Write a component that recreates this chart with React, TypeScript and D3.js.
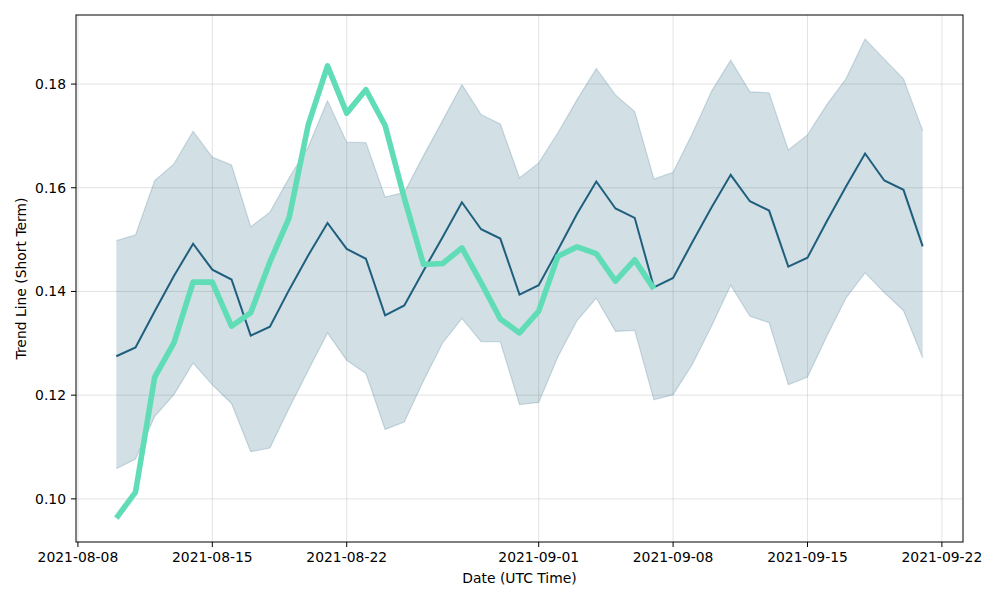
import React from "react";
import * as d3 from "d3";

const startDate = "2021-08-10";
const meanValues = [
  0.1275, 0.1292, 0.1362, 0.1430, 0.1492, 0.1442, 0.1423, 0.1315, 0.1332, 0.1403,
  0.1470, 0.1532, 0.1482, 0.1463, 0.1354, 0.1373, 0.1440, 0.1505, 0.1572, 0.1520,
  0.1502, 0.1394, 0.1412, 0.1480, 0.1550, 0.1612, 0.1560, 0.1542, 0.1408, 0.1426,
  0.1495, 0.1562, 0.1625, 0.1574, 0.1556, 0.1448, 0.1465, 0.1535, 0.1602, 0.1666,
  0.1614, 0.1596, 0.1487,
];
const upperValues = [
  0.1498, 0.1509, 0.1614, 0.1646, 0.1709, 0.1659, 0.1644, 0.1525, 0.1553, 0.1619,
  0.1679, 0.1768, 0.1688, 0.1687, 0.1582, 0.1591, 0.1662, 0.1730, 0.1799, 0.1741,
  0.1723, 0.1619, 0.1648, 0.1706, 0.1770, 0.1830, 0.1779, 0.1747, 0.1617, 0.1630,
  0.1704, 0.1786, 0.1846, 0.1785, 0.1783, 0.1673, 0.1702, 0.1760, 0.1810, 0.1887,
  0.1848, 0.1810, 0.1710,
];
const lowerValues = [
  0.1058, 0.1077, 0.1159, 0.1201, 0.1262, 0.1220, 0.1184, 0.1091, 0.1098, 0.1175,
  0.1248, 0.1320, 0.1267, 0.1242, 0.1134, 0.1148, 0.1228, 0.1301, 0.1348, 0.1303,
  0.1303, 0.1182, 0.1186, 0.1274, 0.1344, 0.1387, 0.1323, 0.1325, 0.1191, 0.1201,
  0.1259, 0.1333, 0.1412, 0.1352, 0.1340, 0.1220, 0.1235, 0.1313, 0.1387, 0.1436,
  0.1398, 0.1363, 0.1272,
];
const actualValues = [
  0.0963, 0.1013, 0.1235, 0.1301, 0.1418, 0.1418, 0.1333, 0.1359, 0.1457, 0.1542,
  0.1722, 0.1835, 0.1744, 0.1789, 0.1720, 0.1580, 0.1452, 0.1454, 0.1484, 0.1417,
  0.1347, 0.1320, 0.1362, 0.1468, 0.1486, 0.1473, 0.1420, 0.1461, 0.1405,
];
const xTickLabels = ["2021-08-08", "2021-08-15", "2021-08-22", "2021-09-01", "2021-09-08", "2021-09-15", "2021-09-22"];
const yTickValues = [0.10, 0.12, 0.14, 0.16, 0.18];

const W = 1000, H = 600;
const L = 76, R = 963, T = 15, B = 542;
const FONT = "DejaVu Sans, sans-serif";
const FS = 13.9;

export default function App() {
  const parse = d3.utcParse("%Y-%m-%d");
  const start = parse(startDate)!;
  const dates = meanValues.map((_, i) => d3.utcDay.offset(start, i));
  const first = dates[0].getTime();
  const last = dates[dates.length - 1].getTime();
  const span = last - first;
  const x = d3.scaleUtc().domain([new Date(first - span * 0.05), new Date(last + span * 0.05)]).range([L, R]);
  const allVals = [...upperValues, ...lowerValues, ...actualValues, ...meanValues];
  const yMin = d3.min(allVals)!, yMax = d3.max(allVals)!;
  const yr = yMax - yMin;
  const y = d3.scaleLinear().domain([yMin - yr * 0.05, yMax + yr * 0.05]).range([B, T]);

  const area = d3.area<number>()
    .x((i) => x(dates[i]))
    .y0((i) => y(lowerValues[i]))
    .y1((i) => y(upperValues[i]));
  const bandData = meanValues.map((_, i) => i);
  const line = d3.line<number>().x((_, i) => x(dates[i])).y((d) => y(d));
  const upperLine = d3.line<number>().x((i) => x(dates[i])).y((i) => y(upperValues[i]));
  const lowerLine = d3.line<number>().x((i) => x(dates[i])).y((i) => y(lowerValues[i]));

  const xTicks = xTickLabels.map((s) => parse(s)!);
  const fmtY = d3.format(".2f");

  return (
    <div style={{ position: "absolute", left: 0, top: 0 }}>
      <svg width={W} height={H} style={{ display: "block", background: "#fff" }}>
        {xTicks.map((d, i) => (
          <line key={"gx" + i} x1={x(d)} x2={x(d)} y1={T} y2={B} stroke="#b0b0b0" strokeOpacity={0.35} strokeWidth={1} />
        ))}
        {yTickValues.map((v, i) => (
          <line key={"gy" + i} x1={L} x2={R} y1={y(v)} y2={y(v)} stroke="#b0b0b0" strokeOpacity={0.35} strokeWidth={1} />
        ))}
        <path d={area(bandData) || ""} fill="#1f5f7e" fillOpacity={0.2} stroke="none" />
        <path d={upperLine(bandData) || ""} fill="none" stroke="#1f5f7e" strokeOpacity={0.2} strokeWidth={1.2} />
        <path d={lowerLine(bandData) || ""} fill="none" stroke="#1f5f7e" strokeOpacity={0.2} strokeWidth={1.2} />
        <path d={line(meanValues) || ""} fill="none" stroke="#1f5f7e" strokeWidth={2} />
        <path d={line(actualValues) || ""} fill="none" stroke="#60ddb6" strokeWidth={5.6} strokeLinejoin="round" />
        <rect x={L} y={T} width={R - L} height={B - T} fill="none" stroke="#000" strokeWidth={1} />
        {xTicks.map((d, i) => (
          <g key={"xt" + i} transform={`translate(${x(d)},${B})`}>
            <line y1={0} y2={5} stroke="#000" strokeWidth={1} />
            <text y={20} textAnchor="middle" fontFamily={FONT} fontSize={FS} fill="#000">{xTickLabels[i]}</text>
          </g>
        ))}
        {yTickValues.map((v, i) => (
          <g key={"yt" + i} transform={`translate(${L},${y(v)})`}>
            <line x1={0} x2={-5} stroke="#000" strokeWidth={1} />
            <text x={-10} dy="0.35em" textAnchor="end" fontFamily={FONT} fontSize={FS} fill="#000">{fmtY(v)}</text>
          </g>
        ))}
        <text x={(L + R) / 2} y={583} textAnchor="middle" fontFamily={FONT} fontSize={FS} fill="#000">Date (UTC Time)</text>
        <text transform={`translate(26,${(T + B) / 2}) rotate(-90)`} textAnchor="middle" fontFamily={FONT} fontSize={FS} fill="#000">Trend Line (Short Term)</text>
      </svg>
    </div>
  );
}
